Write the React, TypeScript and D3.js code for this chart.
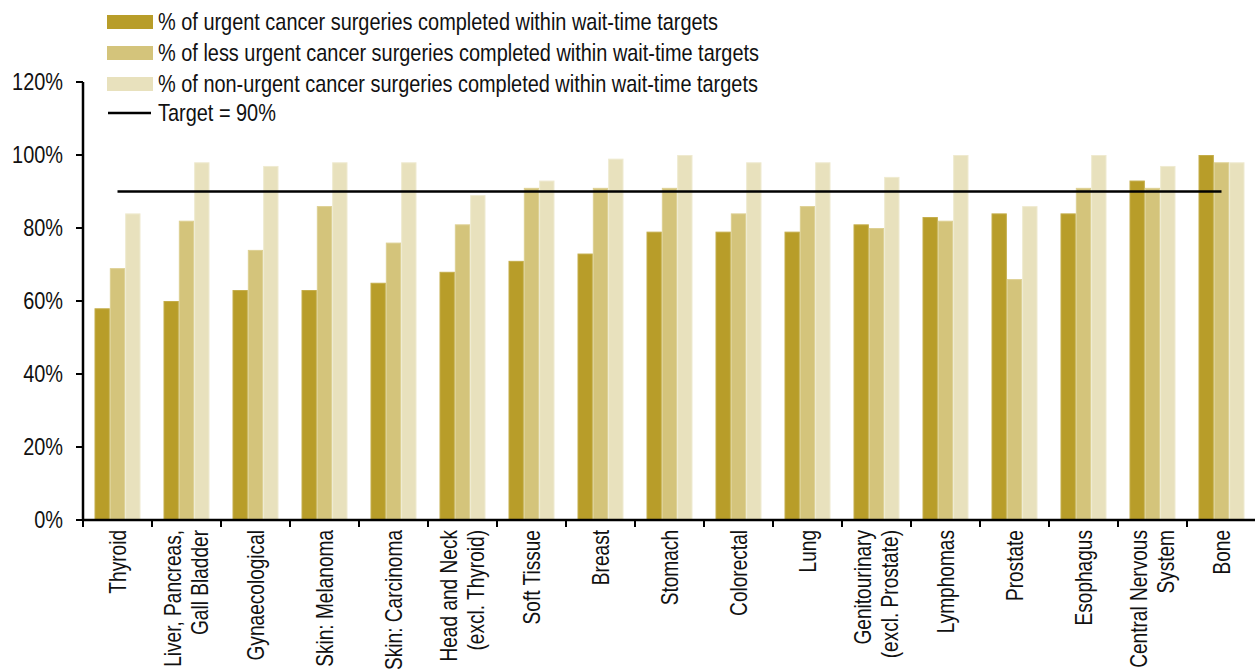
import React from "react";
import * as d3 from "d3";

const categories: string[][] = [
  ["Thyroid"],
  ["Liver, Pancreas,", "Gall Bladder"],
  ["Gynaecological"],
  ["Skin: Melanoma"],
  ["Skin: Carcinoma"],
  ["Head and Neck", "(excl. Thyroid)"],
  ["Soft Tissue"],
  ["Breast"],
  ["Stomach"],
  ["Colorectal"],
  ["Lung"],
  ["Genitourinary", "(excl. Prostate)"],
  ["Lymphomas"],
  ["Prostate"],
  ["Esophagus"],
  ["Central Nervous", "System"],
  ["Bone"],
];

const urgent = [58, 60, 63, 63, 65, 68, 71, 73, 79, 79, 79, 81, 83, 84, 84, 93, 100];
const lessUrgent = [69, 82, 74, 86, 76, 81, 91, 91, 91, 84, 86, 80, 82, 66, 91, 91, 98];
const nonUrgent = [84, 98, 97, 98, 98, 89, 93, 99, 100, 98, 98, 94, 100, 86, 100, 97, 98];
const target = 90;

const seriesNames = [
  "% of urgent cancer surgeries completed within wait-time targets",
  "% of less urgent cancer surgeries completed within wait-time targets",
  "% of non-urgent cancer surgeries completed within wait-time targets",
];
const targetLabel = "Target = 90%";
const yTicks = [0, 20, 40, 60, 80, 100, 120];

const colors = ["#B89D29", "#D4C47B", "#E8E1BD"];
const strokes = ["#C4AD4A", "#DDD093", "#EFEAD0"];

const W = 1255;
const H = 669;
const left = 83;
const right = 1256;
const top = 82;
const bottom = 520;
const FONT = "'Liberation Sans', Arial, sans-serif";
const NARROW = 0.83;

export default function App() {
  const idx = categories.map((_, i) => String(i));
  const x0 = d3.scaleBand<string>().domain(idx).range([left, right]).padding(0);
  const step = x0.step();
  const groupW = 46;
  const x1 = d3.scaleBand<number>().domain([0, 1, 2]).range([0, groupW]).padding(0);
  const y = d3.scaleLinear().domain([0, 120]).range([bottom, top]);
  const series = [urgent, lessUrgent, nonUrgent];

  const firstCenter = (x0("0") as number) + step / 2;
  const lastCenter = (x0(String(categories.length - 1)) as number) + step / 2;

  return (
    <svg
      width={W}
      height={H}
      style={{ position: "absolute", left: 0, top: 0, background: "#fff" }}
      fontFamily={FONT}
    >
      {/* bars */}
      {categories.map((_, i) => {
        const gx = (x0(String(i)) as number) + (step - groupW) / 2;
        return (
          <g key={i} transform={`translate(${gx},0)`}>
            {series.map((s, k) => (
              <rect
                key={k}
                x={(x1(k) as number) + 0.5}
                y={y(s[i]) + 0.5}
                width={x1.bandwidth() - 1}
                height={bottom - y(s[i]) - 0.5}
                fill={colors[k]}
                stroke={strokes[k]}
                strokeWidth={1}
              />
            ))}
          </g>
        );
      })}

      {/* target line */}
      <line
        x1={firstCenter}
        x2={lastCenter}
        y1={y(target)}
        y2={y(target)}
        stroke="#000"
        strokeWidth={2.5}
      />

      {/* y axis */}
      <line x1={left} x2={left} y1={top} y2={bottom} stroke="#000" strokeWidth={2.5} />
      {yTicks.map((t) => (
        <g key={t}>
          <line x1={left - 7} x2={left} y1={y(t)} y2={y(t)} stroke="#000" strokeWidth={2} />
          <g transform={`translate(63,${y(t)}) scale(${NARROW},1)`}>
            <text x={0} y={0} dy="0.35em" textAnchor="end" fontSize={24} fill="#111">
              {t}%
            </text>
          </g>
        </g>
      ))}

      {/* x axis */}
      <line x1={left} x2={W} y1={bottom} y2={bottom} stroke="#000" strokeWidth={2.5} />
      {categories.map((_, i) => {
        const xs = x0(String(i)) as number;
        return (
          <line key={i} x1={xs} x2={xs} y1={bottom} y2={bottom + 7} stroke="#000" strokeWidth={2} />
        );
      })}

      {/* x labels */}
      {categories.map((lines, i) => {
        const cx = (x0(String(i)) as number) + step / 2;
        const lh = 27;
        const n = lines.length;
        return (
          <g
            key={i}
            transform={`translate(${cx},${bottom + 10}) rotate(-90) scale(${NARROW},1)`}
          >
            {lines.map((ln, j) => (
              <text
                key={j}
                x={0}
                y={(j - (n - 1) / 2) * lh}
                dy="0.35em"
                textAnchor="end"
                fontSize={23}
                fill="#111"
              >
                {ln}
              </text>
            ))}
          </g>
        );
      })}

      {/* legend */}
      {seriesNames.map((name, k) => (
        <g key={k} transform={`translate(107,${15 + k * 31})`}>
          <rect x={0} y={0} width={46} height={14} fill={colors[k]} />
          <g transform={`translate(51,7) scale(${NARROW},1)`}>
            <text x={0} y={0} dy="0.35em" fontSize={24} fill="#111">
              {name}
            </text>
          </g>
        </g>
      ))}
      <g transform={`translate(107,${15 + 3 * 31})`}>
        <line x1={1} x2={44} y1={5} y2={5} stroke="#000" strokeWidth={2.5} />
        <g transform={`translate(51,5) scale(${NARROW},1)`}>
          <text x={0} y={0} dy="0.35em" fontSize={24} fill="#111">
            {targetLabel}
          </text>
        </g>
      </g>
    </svg>
  );
}
